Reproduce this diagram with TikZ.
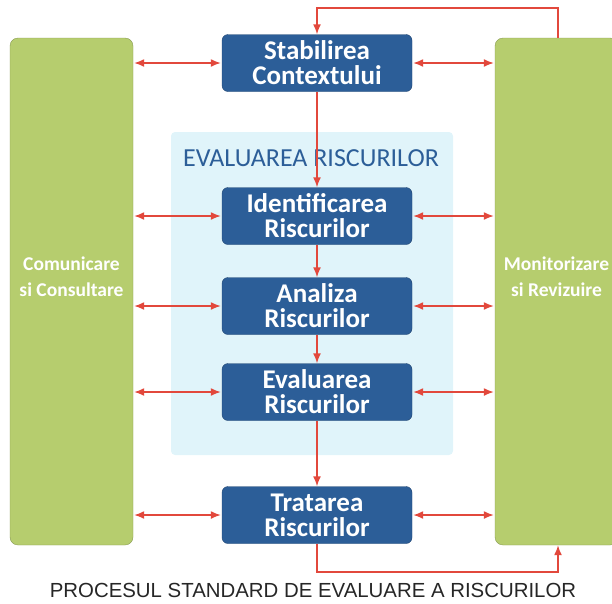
\documentclass[tikz,border=0pt]{standalone}
\usepackage{fontspec}
\setmainfont{Carlito}
\newfontfamily\captionfont{Liberation Sans}
\usetikzlibrary{arrows.meta, positioning}
\definecolor{albastru}{RGB}{44,94,152}
\definecolor{verde}{RGB}{182,205,110}
\definecolor{bleu}{RGB}{224,244,250}
\definecolor{rosu}{RGB}{226,72,60}
\tikzset{
    etapa/.style={
        draw=albastru!75!black, fill=albastru, rounded corners=6pt,
        minimum width=190pt, minimum height=57pt, inner sep=0pt,
        text=white, align=center, font=\bfseries\fontsize{27}{25}\selectfont
    },
    panou/.style={
        draw=verde!75!black, fill=verde, rounded corners=8pt,
        minimum width=123pt, minimum height=507pt, inner sep=0pt,
        text=white, align=center, font=\bfseries\fontsize{19.5}{26}\selectfont
    },
    sageata/.style={
        draw=rosu, line width=1.5pt, -{Latex[length=10pt,width=8pt]}
    },
    dubla/.style={
        sageata, {Latex[length=10pt,width=8pt]}-{Latex[length=10pt,width=8pt]},
        shorten <=1pt, shorten >=1pt
    }
}

\begin{document}
\begin{tikzpicture}[x=1pt, y=-1pt]
	
	\useasboundingbox (0,0) rectangle (612,603);
    
    % panourile laterale
    \node[panou] (stanga) at (71.5,291.5) {Comunicare\\si Consultare\\[4pt]};
    \node[panou] (dreapta) at (556.5,291.5) {Monitorizare\\si Revizuire\\[4pt]};
    
    % zona de evaluare
    \fill[bleu, rounded corners=4pt] (171,132) rectangle (453,455);
    \node[text=albastru, font=\fontsize{26}{28}\selectfont] (titlu) at (311,158) {EVALUAREA RISCURILOR};
    
    % etapele
    \node[etapa] (context) at (317,63) {Stabilirea\\Contextului};
    \node[etapa] (identif) at (317,216) {Identificarea\\Riscurilor};
    \node[etapa] (analiza) at (317,306) {Analiza\\Riscurilor};
    \node[etapa] (evaluare) at (317,392) {Evaluarea\\Riscurilor};
    \node[etapa] (tratare) at (317,515) {Tratarea\\Riscurilor};
    
    \draw[sageata] (context) -- (identif);
    \draw[sageata] (identif) -- (analiza);
    \draw[sageata] (analiza) -- (evaluare);
    \draw[sageata] (evaluare) -- (tratare);
    
    \foreach \e in {context, identif, analiza, evaluare, tratare} {
        \draw[dubla] (stanga.east |- \e) -- (\e.west);
        \draw[dubla] (\e.east) -- (dreapta.west |- \e);
    }
    
    % bucle de revenire
    \coordinate (sus) at (558,8);
    \coordinate (jos) at (558,572);
    \draw[sageata] (dreapta.north -| sus) -- (sus) -| (context.north);
    \draw[sageata] (tratare.south) |- (jos) -- (dreapta.south -| jos);
    
    \node[text=black!85, font=\captionfont\fontsize{20.4}{23}\selectfont] (legenda) at (313,590)
        {PROCESUL STANDARD DE EVALUARE A RISCURILOR};
	
\end{tikzpicture}
\end{document}
